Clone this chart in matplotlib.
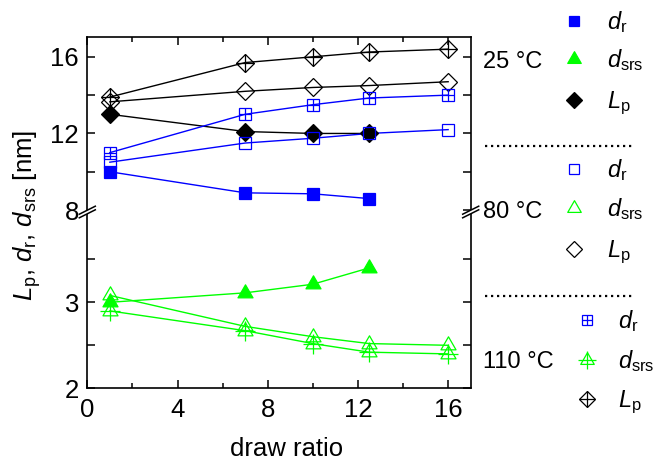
import numpy as np
import matplotlib
matplotlib.use("Agg")
import matplotlib.pyplot as plt
from matplotlib.path import Path
from matplotlib.ticker import FixedLocator

plt.rcParams['font.family'] = ['Liberation Sans', 'DejaVu Sans']
plt.rcParams['mathtext.fontset'] = 'custom'
plt.rcParams['mathtext.rm'] = 'Liberation Sans'
plt.rcParams['mathtext.it'] = 'Liberation Sans:italic'
plt.rcParams['mathtext.bf'] = 'Liberation Sans:bold'

# ---- data -------------------------------------------------------------
draw_ratio_25 = [1, 7, 10, 12.5]
draw_ratio = [1, 7, 10, 12.5, 16]

# 25 °C
dr_25 = [10.0, 8.9, 8.85, 8.6]
dsrs_25 = [3.0, 3.11, 3.21, 3.4]
lp_25 = [13.0, 12.1, 12.0, 12.0]
# 80 °C
dr_80 = [10.5, 11.5, 11.75, 12.0, 12.2]
dsrs_80 = [3.08, 2.72, 2.6, 2.52, 2.5]
lp_80 = [13.65, 14.2, 14.4, 14.5, 14.7]
# 110 °C
dr_110 = [11.0, 13.0, 13.5, 13.85, 14.0]
dsrs_110 = [2.9, 2.67, 2.52, 2.42, 2.4]
lp_110 = [13.9, 15.7, 16.0, 16.25, 16.4]

x_major = [0, 4, 8, 12, 16]
x_minor = [2, 6, 10, 14]
upper_major = [8, 12, 16]
upper_minor = [10, 14]
lower_major = [2, 3]
lower_minor = [2.5, 3.5]

temperatures = ["25 °C", "80 °C", "110 °C"]

BLUE = (0, 0, 1)
GREEN = (0, 1, 0)
BLACK = (0, 0, 0)

# triangle marker centred on its centroid
_w, _h = 15.0, 13.0
TRI = Path([(0, 2 * _h / 3), (-_w / 2, -_h / 3), (_w / 2, -_h / 3), (0, 2 * _h / 3)],
           [Path.MOVETO, Path.LINETO, Path.LINETO, Path.CLOSEPOLY])

# marker styles: (marker, size, filled, plus size)
STY = {
    "sq": ("s", 9.0, True, None),
    "sq_o": ("s", 8.8, False, None),
    "sq_x": ("s", 8.8, False, 8.8),
    "tri": (TRI, 12.5, True, None),
    "tri_o": (TRI, 12.5, False, None),
    "tri_x": (TRI, 12.5, False, 14.0),
    "dia": ("D", 8.8, True, None),
    "dia_o": ("D", 8.8, False, None),
    "dia_x": ("D", 8.8, False, 12.4),
}

# ---- figure -----------------------------------------------------------
W, H = 656, 461
fig = plt.figure(figsize=(W / 100, H / 100), dpi=100)


def box(l, t, r, b):
    return [l / W, 1 - b / H, (r - l) / W, (b - t) / H]


ax_top = fig.add_axes(box(87.3, 36.7, 470.7, 212))
ax_bot = fig.add_axes(box(87.3, 212, 470.7, 388.3))

FS_TICK = 18.5
FS_LAB = 18.5
FS_LEG = 17

for ax in (ax_top, ax_bot):
    ax.set_xlim(0, 17)
    for s in ax.spines.values():
        s.set_linewidth(1.2)
    ax.xaxis.set_major_locator(FixedLocator(x_major))
    ax.xaxis.set_minor_locator(FixedLocator(x_minor))
    ax.tick_params(which='both', direction='in', width=1.1,
                   left=True, right=True, labelsize=FS_TICK)
    ax.tick_params(which='major', length=6, pad=6)
    ax.tick_params(which='minor', length=3.5)

ax_top.set_ylim(7.9, 17.05)
ax_top.yaxis.set_major_locator(FixedLocator(upper_major))
ax_top.yaxis.set_minor_locator(FixedLocator(upper_minor))
ax_top.spines['bottom'].set_visible(False)
ax_top.tick_params(axis='x', which='both', bottom=False, top=True, labelbottom=False)
ax_top.tick_params(axis='y', which='minor', length=6)

ax_bot.set_ylim(2, 4.05)
ax_bot.yaxis.set_major_locator(FixedLocator(lower_major))
ax_bot.yaxis.set_minor_locator(FixedLocator(lower_minor))
ax_bot.spines['top'].set_visible(False)
ax_bot.tick_params(axis='x', which='both', bottom=True, top=False)
ax_bot.tick_params(axis='x', which='major', pad=7)
ax_bot.tick_params(axis='y', which='minor', length=6)


def series(ax, x, y, color, key):
    marker, ms, filled, plus = STY[key]
    ax.plot(x, y, color=color, lw=1.0, zorder=2, clip_on=False)
    ax.plot(x, y, ls='none', marker=marker, ms=ms, mew=0.9,
            mec=color, mfc=color if filled else 'none', zorder=3, clip_on=False)
    if plus:
        ax.plot(x, y, ls='none', marker='+', ms=plus, mew=0.9,
                color=color, zorder=3, clip_on=False)


# upper part: d_r and L_p
series(ax_top, draw_ratio_25, dr_25, BLUE, "sq")
series(ax_top, draw_ratio_25, lp_25, BLACK, "dia")
series(ax_top, draw_ratio, dr_80, BLUE, "sq_o")
series(ax_top, draw_ratio, lp_80, BLACK, "dia_o")
series(ax_top, draw_ratio, dr_110, BLUE, "sq_x")
series(ax_top, draw_ratio, lp_110, BLACK, "dia_x")

# lower part: d_srs
series(ax_bot, draw_ratio_25, dsrs_25, GREEN, "tri")
series(ax_bot, draw_ratio, dsrs_80, GREEN, "tri_o")
series(ax_bot, draw_ratio, dsrs_110, GREEN, "tri_x")

# ---- overlay in pixel coordinates: labels, break marks, key ------------
ov = fig.add_axes([0, 0, 1, 1], zorder=10)
ov.set_xlim(0, W)
ov.set_ylim(H, 0)
ov.axis('off')

ov.text(287, 456, "draw ratio", ha='center', va='baseline', fontsize=FS_LAB)
ov.text(27, 215, r"$L_\mathrm{p}$, $d_\mathrm{r}$, $d_\mathrm{srs}$ [nm]",
        rotation=90, ha='center', va='center', fontsize=FS_LAB)

# axis break marks on both vertical spines
for xb in (87.3, 470.7):
    yb = 212
    gap = 1.8
    ov.fill([xb - 8, xb + 8, xb + 8, xb - 8],
            [yb + 4 - gap, yb - 4 - gap, yb - 4 + gap, yb + 4 + gap],
            color='white', lw=0, zorder=1)
    for o in (-gap, gap):
        ov.plot([xb - 8, xb + 8], [yb + 4 + o, yb - 4 + o],
                color='black', lw=1.1, zorder=2)

# key
rows = [
    (21, 574, 607, "sq", BLUE, r"$d_\mathrm{r}$"),
    (59, 574, 607, "tri", GREEN, r"$d_\mathrm{srs}$"),
    (100, 574, 607, "dia", BLACK, r"$L_\mathrm{p}$"),
    (169, 574, 607, "sq_o", BLUE, r"$d_\mathrm{r}$"),
    (208, 574, 607, "tri_o", GREEN, r"$d_\mathrm{srs}$"),
    (249, 574, 607, "dia_o", BLACK, r"$L_\mathrm{p}$"),
    (320, 587, 618, "sq_x", BLUE, r"$d_\mathrm{r}$"),
    (360, 587, 618, "tri_x", GREEN, r"$d_\mathrm{srs}$"),
    (399, 587, 618, "dia_x", BLACK, r"$L_\mathrm{p}$"),
]
for y, xm, xt, key, color, label in rows:
    marker, ms, filled, plus = STY[key]
    k = 0.85 if key.startswith("sq") else 0.9
    ov.plot([xm], [y], ls='none', marker=marker, ms=ms * k, mew=0.9,
            mec=color, mfc=color if filled else 'none')
    if plus:
        ov.plot([xm], [y], ls='none', marker='+', ms=plus * k, mew=0.9, color=color)
    ov.text(xt, y + 8.5, label, ha='left', va='baseline', fontsize=FS_LEG)

for t, y in zip(temperatures, (68, 218, 368)):
    ov.text(483, y, t, ha='left', va='baseline', fontsize=FS_LEG)

for y in (146, 296):
    ov.plot([485, 635], [y, y], color='black', lw=1.6, ls=(0, (1, 1.7)))

fig.savefig("out.png", dpi=100)
